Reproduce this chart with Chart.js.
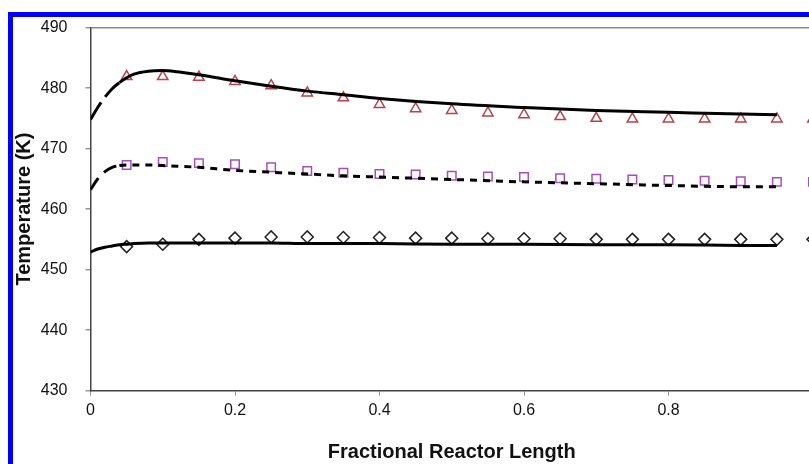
<!DOCTYPE html>
<html>
<head>
<meta charset="utf-8">
<script src="https://cdn.jsdelivr.net/npm/chart.js@4.4.1/dist/chart.umd.min.js"></script>
<style>
  html, body { margin: 0; padding: 0; background: #fff; overflow: hidden; width: 809px; height: 464px; }
  #wrap { position: absolute; left: 0; top: 0; width: 830px; height: 464px; }
  #bl { position: absolute; left: 8px; top: 12px; width: 5px; height: 452px; background: #0000ff; }
  #bt { position: absolute; left: 8px; top: 12px; width: 801px; height: 5px; background: #0000ff; }
</style>
</head>
<body>
<div id="wrap"><canvas id="c" width="830" height="464"></canvas></div>
<div id="bl"></div><div id="bt"></div>
<script>
// Measured points (markers)
const markerX = [0.05,0.10,0.15,0.20,0.25,0.30,0.35,0.40,0.45,0.50,0.55,0.60,0.65,0.70,0.75,0.80,0.85,0.90,0.95,1.00];
const triangleT = [481.9,481.9,481.8,481.1,480.4,479.2,478.4,477.3,476.6,476.3,475.9,475.6,475.3,475.0,474.9,474.9,474.9,474.9,474.9,474.9];
const squareT   = [467.3,467.8,467.6,467.4,466.9,466.3,466.0,465.8,465.7,465.5,465.4,465.3,465.1,465.0,464.9,464.8,464.7,464.6,464.5,464.5];
const diamondT  = [453.8,454.2,455.0,455.2,455.4,455.4,455.3,455.3,455.2,455.2,455.1,455.1,455.1,455.0,455.0,455.0,455.0,455.0,455.0,455.0];

// Model curves
const modelX = [0,0.01,0.02,0.03,0.04,0.05,0.06,0.08,0.10,0.12,0.15,0.20,0.25,0.30,0.35,0.40,0.50,0.60,0.70,0.80,0.90,0.95];
const topCurve = [474.8,476.8,478.5,479.9,480.9,481.7,482.3,482.8,482.9,482.7,482.2,481.2,480.3,479.5,478.9,478.3,477.4,476.8,476.3,476.0,475.7,475.6];
const midCurve = [463.2,465.0,466.2,466.9,467.2,467.3,467.3,467.3,467.2,467.1,466.9,466.4,466.1,465.8,465.5,465.3,464.9,464.5,464.2,463.9,463.7,463.7];
const lowCurve = [452.9,453.4,453.7,453.9,454.1,454.2,454.3,454.4,454.4,454.4,454.4,454.4,454.4,454.3,454.3,454.3,454.2,454.2,454.1,454.1,454.0,454.0];

const yTicks = [430,440,450,460,470,480,490];
const xTicks = [0,0.2,0.4,0.6,0.8,1];
const xTitle = 'Fractional Reactor Length';
const yTitle = 'Temperature (K)';

const pts = (xs, ys) => xs.map((x, i) => ({x: x, y: ys[i]}));
const FONT = "'Liberation Sans', Arial, sans-serif";

new Chart(document.getElementById('c'), {
  type: 'scatter',
  data: {
    datasets: [
      { data: pts(modelX, topCurve), showLine: true, borderColor: '#000', borderWidth: 3, pointRadius: 0,
        cubicInterpolationMode: 'monotone', order: 0,
        segment: { borderDash: ctx => ctx.p0.parsed.x < 0.035 ? [20, 7] : undefined } },
      { data: pts(modelX, midCurve), showLine: true, borderColor: '#000', borderWidth: 3, pointRadius: 0,
        cubicInterpolationMode: 'monotone', order: 0, borderDash: [7, 6],
        segment: { borderDash: ctx => ctx.p0.parsed.x < 0.035 ? [14, 8] : [7, 6] } },
      { data: pts(modelX, lowCurve), showLine: true, borderColor: '#000', borderWidth: 3, pointRadius: 0,
        cubicInterpolationMode: 'monotone', order: 0 },
      { data: pts(markerX, triangleT), showLine: false, pointStyle: 'triangle', pointRadius: 6,
        pointBorderColor: '#b8424a', pointBackgroundColor: '#fff', pointBorderWidth: 1.5, order: 1 },
      { data: pts(markerX, squareT), showLine: false, pointStyle: 'rect', pointRadius: 6,
        pointBorderColor: '#a64dc0', pointBackgroundColor: '#fff', pointBorderWidth: 1.5, order: 1 },
      { data: pts(markerX, diamondT), showLine: false, pointStyle: 'rectRot', pointRadius: 6,
        pointBorderColor: '#222', pointBackgroundColor: '#fff', pointBorderWidth: 1.5, order: 1 }
    ]
  },
  options: {
    responsive: false,
    animation: false,
    events: [],
    layout: { padding: { left: 0, top: 27, right: 17, bottom: 0 } },
    plugins: { legend: { display: false }, tooltip: { enabled: false } },
    scales: {
      x: {
        type: 'linear', min: 0, max: 1,
        afterBuildTicks: s => { s.ticks = xTicks.map(v => ({value: v})); },
        afterFit: s => { s.height = 73.4; },
        border: { display: true, color: '#444', width: 1.5 },
        grid: { drawOnChartArea: false, drawTicks: true, tickLength: 5, tickColor: '#999' },
        ticks: { color: '#111', font: { family: FONT, size: 16 }, padding: 5, maxRotation: 0,
                 callback: v => String(v) },
        title: { display: true, text: xTitle, color: '#111', font: { family: FONT, size: 20, weight: 'bold' },
                 padding: { top: 0, bottom: 0 } }
      },
      y: {
        type: 'linear', min: 430, max: 490,
        afterBuildTicks: s => { s.ticks = yTicks.map(v => ({value: v})); },
        afterFit: s => { s.width = 90.5; },
        border: { display: true, color: '#444', width: 1.5 },
        grid: { drawOnChartArea: true, drawTicks: true, tickLength: 5, tickColor: '#999',
                color: ctx => (ctx.tick && ctx.tick.value === 490) ? '#888' : 'rgba(0,0,0,0)', lineWidth: 1.5 },
        ticks: { color: '#111', font: { family: FONT, size: 16 }, padding: 18 },
        title: { display: true, text: yTitle, color: '#111', font: { family: FONT, size: 20, weight: 'bold' },
                 padding: { top: 12, bottom: 0 } }
      }
    }
  }
});
</script>
</body>
</html>
